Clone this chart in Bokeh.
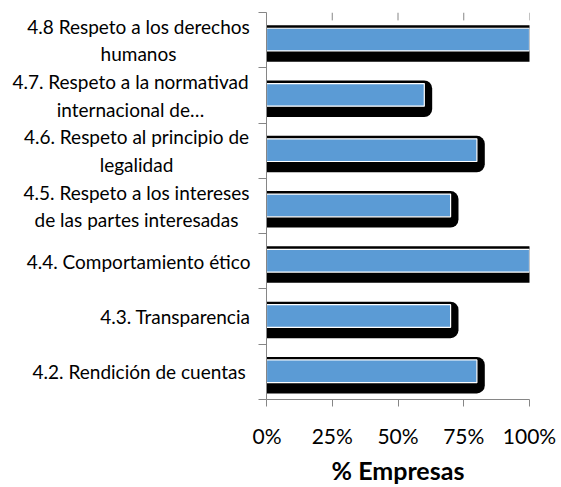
from bokeh.plotting import figure
from bokeh.layouts import row
from bokeh.models import FixedTicker, Range1d, NumeralTickFormatter
from bokeh.core.properties import value
from bokeh.embed import file_html
from bokeh.resources import INLINE

categories = [
    "4.2. Rendición de cuentas ",
    "4.3. Transparencia",
    "4.4. Comportamiento ético",
    "4.5. Respeto a los intereses\nde las partes interesadas",
    "4.6. Respeto al principio de\nlegalidad",
    "4.7. Respeto a la normativad\ninternacional de…",
    "4.8 Respeto a los derechos\nhumanos",
]
values = [0.80, 0.70, 1.00, 0.70, 0.80, 0.60, 1.00]
x_ticks = [0, 0.25, 0.5, 0.75, 1.0]

FONT = "Lato"
GREY = "#868686"
n = len(categories)
centers = [i + 0.5 for i in range(n)]
H, TOP, BOTTOM = 487, 12, 82
row_px = (H - TOP - BOTTOM) / n
LABEL_W = 252

# ---- label panel (left) ----
pl = figure(width=LABEL_W, height=H, output_backend="svg", toolbar_location=None,
            x_range=Range1d(0, LABEL_W), y_range=Range1d(0, n),
            x_axis_type=None, y_axis_type=None,
            min_border_left=0, min_border_right=0, min_border_top=TOP, min_border_bottom=BOTTOM)
pl.outline_line_color = None
pl.grid.visible = False
single = [(c, t) for c, t in zip(centers, categories) if "\n" not in t]
double = [(c, t) for c, t in zip(centers, categories) if "\n" in t]
# layout: right edge of single-line labels, centre of two-line labels (px)
double_x = [136, 136, 130, 138]
pl.text(x=[250] * len(single), y=[c for c, _ in single], text=[t for _, t in single],
        text_align="right", text_baseline="middle", text_font=value(FONT),
        text_font_size="19px", text_color="black")
pl.text(x=double_x, y=[c for c, _ in double], text=[t for _, t in double],
        text_align="center", text_baseline="middle", text_font=value(FONT),
        text_font_size="19px", text_color="black", text_line_height=1.2)

# ---- chart ----
p = figure(width=561 - LABEL_W, height=H, output_backend="svg", toolbar_location=None,
           x_range=Range1d(0, 1), y_range=Range1d(0, n),
           min_border_left=266 - LABEL_W, min_border_right=32,
           min_border_top=TOP, min_border_bottom=BOTTOM)
p.outline_line_color = None
p.xgrid.visible = False
p.ygrid.visible = False

# shadow
p.quad(left=[0] * n, right=[v + 0.03 for v in values],
       top=[c + 0.27 for c in centers], bottom=[c - 0.39 for c in centers],
       fill_color="black", line_color=None, border_radius=(0, 8, 8, 0))
# bars
p.hbar(y=[c + 0.01 for c in centers], right=values, left=0, height=0.41,
       fill_color="#5B9BD5", line_color="white", line_width=1.2)

# top tick marks
p.segment(x0=x_ticks, y0=[n] * len(x_ticks), x1=x_ticks, y1=[n - 8 / row_px] * len(x_ticks),
          line_color=GREY, line_width=1)

# x axis
xa = p.xaxis[0]
xa.ticker = FixedTicker(ticks=x_ticks, minor_ticks=[])
xa.formatter = NumeralTickFormatter(format="0%")
xa.axis_line_color = GREY
xa.major_tick_line_color = GREY
xa.major_tick_out = 7
xa.major_tick_in = 0
xa.minor_tick_line_color = None
xa.major_label_text_font = FONT
xa.major_label_text_font_size = "21px"
xa.major_label_text_color = "black"
xa.major_label_standoff = 16
xa.axis_label = "% Empresas"
xa.axis_label_text_font = FONT
xa.axis_label_text_font_size = "25px"
xa.axis_label_text_font_style = "bold"
xa.axis_label_text_color = "black"
xa.axis_label_standoff = 4

# y axis (ticks at category boundaries)
ya = p.yaxis[0]
ya.ticker = FixedTicker(ticks=centers, minor_ticks=list(range(n + 1)))
ya.major_label_overrides = {c: "" for c in centers}
ya.axis_line_color = GREY
ya.major_tick_line_color = None
ya.major_tick_out = 0
ya.major_tick_in = 0
ya.minor_tick_line_color = GREY
ya.minor_tick_out = 8
ya.minor_tick_in = 0
ya.major_label_text_font_size = "1px"
ya.major_label_standoff = 0

layout = row(pl, p, spacing=0)
open("out.html", "w").write(file_html(layout, INLINE))
